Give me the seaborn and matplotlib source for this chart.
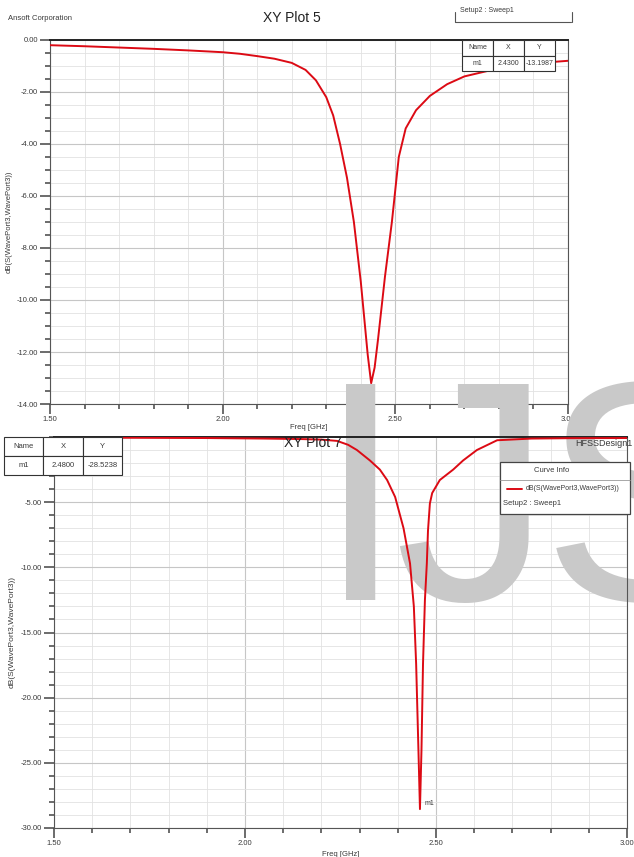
import matplotlib
matplotlib.use("Agg")
import matplotlib.pyplot as plt
import numpy as np
import pandas as pd
import seaborn as sns
from matplotlib.patches import Rectangle
from matplotlib.lines import Line2D
from matplotlib.ticker import MultipleLocator

# ---------------- data ----------------
freq_plot5 = [1.50, 1.60, 1.70, 1.80, 1.90, 2.00, 2.05, 2.10, 2.15, 2.20, 2.24, 2.27,
              2.30, 2.32, 2.34, 2.36, 2.38, 2.40, 2.42, 2.43, 2.44, 2.45, 2.47, 2.49,
              2.51, 2.53, 2.56, 2.60, 2.65, 2.70, 2.78, 2.86, 2.94, 3.00]
db_plot5 = [-0.20, -0.24, -0.29, -0.34, -0.40, -0.47, -0.53, -0.62, -0.72, -0.88, -1.15, -1.55,
            -2.20, -2.90, -4.00, -5.30, -7.00, -9.30, -12.10, -13.20, -12.60, -11.50, -9.10, -7.00,
            -4.50, -3.40, -2.70, -2.15, -1.70, -1.40, -1.15, -0.98, -0.86, -0.80]

freq_plot7 = [1.50, 1.70, 1.90, 2.05, 2.15, 2.20, 2.241, 2.27, 2.293, 2.327, 2.353, 2.372,
              2.393, 2.415, 2.432, 2.442, 2.448, 2.454, 2.458, 2.462, 2.466, 2.471, 2.476, 2.479,
              2.484, 2.490, 2.510, 2.545, 2.571, 2.607, 2.660, 2.75, 2.85, 3.00]
db_plot7 = [-0.05, -0.06, -0.08, -0.12, -0.16, -0.20, -0.30, -0.60, -1.00, -1.80, -2.50, -3.30,
            -4.60, -7.00, -9.70, -13.00, -17.40, -24.00, -28.55, -24.00, -17.40, -12.50, -9.70, -7.20,
            -5.10, -4.30, -3.30, -2.50, -1.80, -1.00, -0.25, -0.12, -0.09, -0.08]

x_ticks = [1.50, 2.00, 2.50, 3.00]
x_tick_labels = ["1.50", "2.00", "2.50", "3.00"]
y5_ticks = [0, -2, -4, -6, -8, -10, -12, -14]
y5_tick_labels = ["0.00", "-2.00", "-4.00", "-6.00", "-8.00", "-10.00", "-12.00", "-14.00"]
y7_ticks = [-5, -10, -15, -20, -25, -30]
y7_tick_labels = ["-5.00", "-10.00", "-15.00", "-20.00", "-25.00", "-30.00"]
marker_cols = ["Name", "X", "Y"]
marker5_row = ["m1", "2.4300", "-13.1987"]
marker7_row = ["m1", "2.4800", "-28.5238"]
watermark_letters = ["I", "J", "S"]

df5 = pd.DataFrame({"freq": freq_plot5, "db": db_plot5})
df7 = pd.DataFrame({"freq": freq_plot7, "db": db_plot7})

# ---------------- style ----------------
sns.set_theme(style="white")
plt.rcParams["font.family"] = ["Liberation Sans Narrow", "Liberation Sans", "DejaVu Sans"]

W, H = 634, 857
fig = plt.figure(figsize=(W / 100, H / 100), dpi=100)
fig.patch.set_facecolor("white")


def fx(px):
    return px / W


def fy(py):
    return 1 - py / H


RED = "#dc0a14"
TXT = "#3a3a3a"

A1 = (50, 568, 40, 404)   # left, right, top, bottom in pixels
A2 = (54, 627, 437, 828)
ax1 = fig.add_axes([fx(A1[0]), fy(A1[3]), fx(A1[1]) - fx(A1[0]), fy(A1[2]) - fy(A1[3])])
ax2 = fig.add_axes([fx(A2[0]), fy(A2[3]), fx(A2[1]) - fx(A2[0]), fy(A2[2]) - fy(A2[3])])


def style(ax, yticks, ylabels, ymin, yminor):
    ax.set_xlim(1.5, 3.0)
    ax.set_ylim(ymin, 0)
    ax.set_xticks(x_ticks)
    ax.set_xticklabels(x_tick_labels)
    ax.xaxis.set_minor_locator(MultipleLocator(0.1))
    ax.set_yticks(yticks)
    ax.set_yticklabels(ylabels)
    ax.yaxis.set_minor_locator(MultipleLocator(yminor))
    ax.set_axisbelow(True)
    ax.grid(which="major", color="#c6c6c6", lw=0.8)
    ax.grid(which="minor", color="#e2e2e2", lw=0.6)
    ax.tick_params(which="major", direction="out", length=7, width=1.1, color="#444444",
                   labelsize=5.5, labelcolor=TXT, pad=1.5, left=True, bottom=True)
    ax.tick_params(which="minor", direction="out", length=3.5, width=1.1, color="#444444",
                   left=True, bottom=True)
    for s in ax.spines.values():
        s.set_color("#555555")
        s.set_linewidth(0.8)
    ax.spines["top"].set_color("#222222")
    ax.spines["top"].set_linewidth(1.4)
    ax.set_facecolor("white")


def style_table(t, fs):
    t.auto_set_font_size(False)
    t.set_fontsize(fs)
    for c in t.get_celld().values():
        c.set_edgecolor("#333333")
        c.set_linewidth(0.8)
        c.get_text().set_color(TXT)


# ---------------- top plot ----------------
sns.lineplot(data=df5, x="freq", y="db", ax=ax1, color=RED, lw=1.4, zorder=3)
style(ax1, y5_ticks, y5_tick_labels, -14, 0.5)
ax1.set_xlabel("Freq [GHz]", fontsize=5.5, color=TXT, labelpad=1)
ax1.set_ylabel("dB(S(WavePort3,WavePort3))", fontsize=5.5, color=TXT, labelpad=3)
w1 = A1[1] - A1[0]
h1 = A1[3] - A1[2]
t5 = ax1.table(cellText=[marker5_row], colLabels=marker_cols, cellLoc="center",
               bbox=[(462 - A1[0]) / w1, 1 - 31 / h1, 93 / w1, 31 / h1], zorder=5)
style_table(t5, 5)

fig.text(fx(8), fy(18), "Ansoft Corporation", fontsize=5.5, color=TXT, va="center")
fig.text(fx(292), fy(18), "XY Plot 5", fontsize=10, color="#222222", ha="center", va="center")
fig.text(fx(460), fy(11), "Setup2 : Sweep1", fontsize=5, color=TXT, va="center")
fig.add_artist(Line2D([fx(455), fx(455), fx(571)], [fy(12), fy(22), fy(22)],
                      transform=fig.transFigure, color="#555555", lw=0.8))
fig.add_artist(Line2D([fx(572), fx(572)], [fy(12), fy(22)],
                      transform=fig.transFigure, color="#555555", lw=0.8))

# ---------------- bottom plot ----------------
sns.lineplot(data=df7, x="freq", y="db", ax=ax2, color=RED, lw=1.4, zorder=3)
style(ax2, y7_ticks, y7_tick_labels, -30, 1)
ax2.set_xlabel("Freq [GHz]", fontsize=5.5, color=TXT, labelpad=3)
ax2.set_ylabel("dB(S(WavePort3,WavePort3))", fontsize=6, color=TXT, labelpad=4)
w2 = A2[1] - A2[0]
h2 = A2[3] - A2[2]
t7 = ax2.table(cellText=[marker7_row], colLabels=marker_cols, cellLoc="center",
               bbox=[(4 - A2[0]) / w2, 1 - 38 / h2, 118 / w2, 38 / h2], zorder=5)
style_table(t7, 5.5)

ax2.annotate("m1", xy=(freq_plot7[18], db_plot7[18]), xytext=(3, 4), textcoords="offset points",
             fontsize=5, color=TXT, va="center", zorder=6)

fig.text(fx(313), fy(443), "XY Plot 7", fontsize=10, color="#222222", ha="center", va="center")
fig.text(fx(632), fy(443), "HFSSDesign1", fontsize=6.5, color=TXT, ha="right", va="center")

# legend box "Curve Info"
fig.add_artist(Rectangle((fx(500), fy(514)), fx(630) - fx(500), fy(462) - fy(514),
                         transform=fig.transFigure, facecolor="white", edgecolor="#444444",
                         lw=0.9, zorder=6))
fig.add_artist(Line2D([fx(500), fx(630)], [fy(480), fy(480)], transform=fig.transFigure,
                      color="#999999", lw=0.6, zorder=7))
fig.text(fx(552), fy(471), "Curve Info", fontsize=5.5, color=TXT, ha="center", va="center", zorder=8)
fig.add_artist(Line2D([fx(507), fx(522)], [fy(489), fy(489)], transform=fig.transFigure,
                      color=RED, lw=1.4, zorder=8))
fig.text(fx(526), fy(489), "dB(S(WavePort3,WavePort3))", fontsize=5, color=TXT, va="center", zorder=8)
fig.text(fx(503), fy(504), "Setup2 : Sweep1", fontsize=5.5, color=TXT, va="center", zorder=8)

# watermark (letters placed individually to match the reference spacing)
for letter, cx in zip(watermark_letters, [361, 473, 646]):
    ax2.text(fx(cx), fy(600), letter, transform=fig.transFigure, fontsize=226, color="#c9c9c9",
             family="Liberation Sans", ha="center", va="baseline", zorder=1.5, clip_on=False)

fig.savefig("out.png", dpi=100, facecolor="white")
